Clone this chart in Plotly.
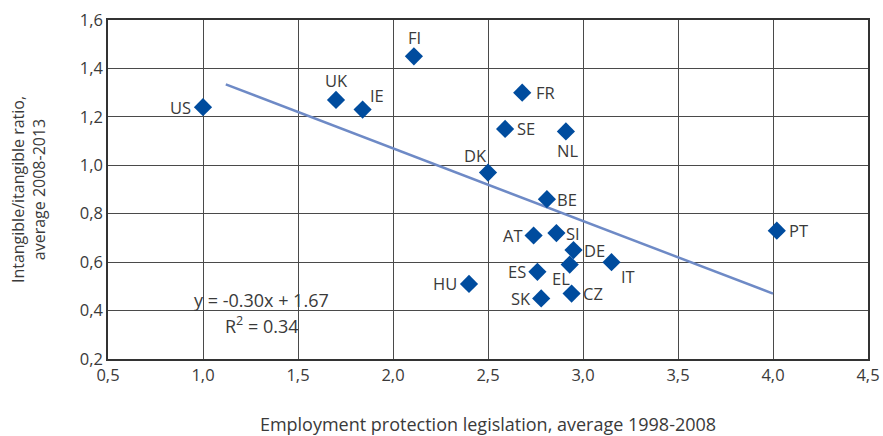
import plotly.graph_objects as go

# Country codes and their values
countries = ["US", "UK", "IE", "FI", "DK", "FR", "SE", "NL", "BE", "AT",
             "SI", "DE", "EL", "IT", "ES", "HU", "SK", "CZ", "PT"]
epl = [1.00, 1.70, 1.84, 2.11, 2.50, 2.68, 2.59, 2.91, 2.81, 2.74,
       2.86, 2.95, 2.93, 3.15, 2.76, 2.40, 2.78, 2.94, 4.02]
ratio = [1.24, 1.27, 1.23, 1.45, 0.97, 1.30, 1.15, 1.14, 0.86, 0.71,
         0.72, 0.65, 0.59, 0.60, 0.56, 0.51, 0.45, 0.47, 0.73]

# Linear trend (as stated in the equation label)
slope = -0.30
intercept = 1.67
r_squared = 0.34
trend_x = [1.12, 4.00]

# Label placement per country: (xanchor, yanchor, xshift, yshift)
label_pos = {
    "US": ("right", "middle", -10, 0),
    "UK": ("center", "bottom", 0, 6),
    "IE": ("left", "bottom", 5, 1),
    "FI": ("center", "bottom", 1, 5),
    "DK": ("right", "bottom", 1, 4),
    "FR": ("left", "middle", 12, 0),
    "SE": ("left", "middle", 10, 0),
    "NL": ("center", "top", 2, -6),
    "BE": ("left", "middle", 8, 0),
    "AT": ("right", "middle", -9, 0),
    "SI": ("left", "middle", 8, 0),
    "DE": ("left", "middle", 8, 0),
    "EL": ("right", "top", 2, 0),
    "IT": ("left", "top", 7, -1),
    "ES": ("right", "middle", -9, 0),
    "HU": ("right", "middle", -10, 0),
    "SK": ("right", "middle", -8, 0),
    "CZ": ("left", "middle", 9, 0),
    "PT": ("left", "middle", 10, 0),
}

font_family = "Open Sans, Noto Sans, sans-serif"
text_color = "#3a3a3a"
grid_color = "#4a4a4a"

fig = go.Figure()

fig.add_trace(go.Scatter(
    x=trend_x,
    y=[slope * x + intercept for x in trend_x],
    mode="lines",
    line=dict(color="#6e8ac6", width=2.5),
    hoverinfo="skip",
    showlegend=False,
))

fig.add_trace(go.Scatter(
    x=epl, y=ratio, mode="markers", text=countries,
    marker=dict(symbol="diamond", size=14, color="#004c9e"),
    showlegend=False,
))

annotations = []
for c, x, y in zip(countries, epl, ratio):
    xa, ya, xs, ys = label_pos[c]
    annotations.append(dict(
        x=x, y=y, text=c, showarrow=False,
        xanchor=xa, yanchor=ya, xshift=xs, yshift=ys,
        font=dict(family=font_family, size=16.5, color=text_color),
    ))

annotations.append(dict(
    x=1.31, y=0.445, xref="x", yref="y",
    text=f"y = {slope:.2f}x + {intercept:.2f}",
    showarrow=False, xanchor="center", yanchor="middle",
    font=dict(family=font_family, size=18, color=text_color),
))
annotations.append(dict(
    x=1.31, y=0.341, xref="x", yref="y",
    text=f"R<sup>2</sup> = {r_squared:.2f}",
    showarrow=False, xanchor="center", yanchor="middle",
    font=dict(family=font_family, size=18, color=text_color),
))

axis_common = dict(
    showgrid=True, gridcolor=grid_color, gridwidth=1,
    showline=True, linecolor="#333333", linewidth=1.5, mirror=True,
    zeroline=False, ticks="", automargin=False,
    tickfont=dict(family=font_family, size=16.5, color=text_color),
    tickformat=".1f",
)

fig.update_layout(
    width=883, height=436,
    margin=dict(l=108, r=15, t=20, b=77),
    paper_bgcolor="white", plot_bgcolor="white",
    separators=",.",
    annotations=annotations,
    xaxis=dict(
        range=[0.5, 4.5], dtick=0.5,
        title=dict(text="Employment protection legislation, average 1998-2008",
                   font=dict(family=font_family, size=18, color=text_color),
                   standoff=38),
        **axis_common,
    ),
    yaxis=dict(
        range=[0.2, 1.6], dtick=0.2,
        title=dict(text="Intangible/itangible ratio,<br>average 2008-2013",
                   font=dict(family=font_family, size=16, color=text_color),
                   standoff=30),
        **axis_common,
    ),
)

fig.write_html("out.html")
